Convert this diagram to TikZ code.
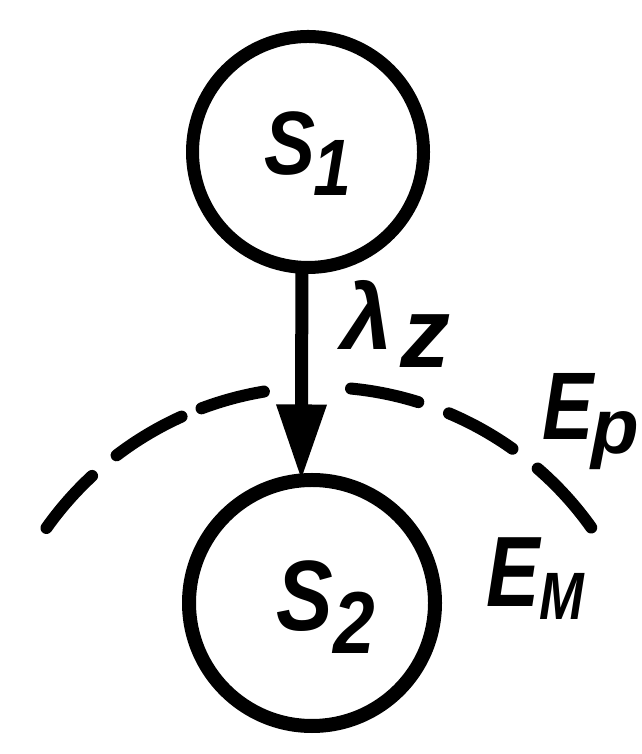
\documentclass[tikz,border=0pt]{standalone}
\usepackage{fontspec}
\setmainfont{Liberation Sans}
\usetikzlibrary{arrows.meta}
\begin{document}
\begin{tikzpicture}[x=1pt,y=1pt,
  state/.style={circle, draw, inner sep=0pt, outer sep=0pt},
  lbl/.style={inner sep=0pt, outer sep=0pt, anchor=base west, font=\bfseries\itshape},
  boundary/.style={line width=12pt, line cap=round},
  flow/.style={line width=13pt, -{Triangle[length=76pt,width=47pt]}}
]
\fill[white] (0,0) rectangle (641,754);
\useasboundingbox (0,0) rectangle (641,754);
% states
\node[state, line width=13pt, minimum size=231pt] (S1) at (308,602) {};
\node[state, line width=14pt, minimum size=246pt] (S2) at (312,151) {};
% transition
\draw[flow] (S1.267) -- (S2.95);
% boundary between E_p and E_M (dashed arc)
\coordinate (C) at (319,33);
\foreach \a/\b in {144.7/132.8, 127.3/114.3, 110.6/99.5, 84.5/72.7, 67.1/54.6, 49.1/35.4}{
  \draw[boundary] (C) ++(\a:334) arc[start angle=\a, end angle=\b, radius=334];
}
% labels
\node[lbl] (l1) at (264,579) {\fontsize{90}{90}\selectfont\scalebox{0.85}[1]{S}\hspace{-2pt}\raisebox{-21pt}{\fontsize{80}{80}\selectfont\scalebox{0.85}[1]{1}}};
\node[lbl] (l2) at (276,123) {\fontsize{100}{100}\selectfont\scalebox{0.85}[1]{S}\hspace{1pt}\raisebox{-23pt}{\fontsize{88}{88}\selectfont\scalebox{0.85}[1]{2}}};
\node[lbl] (lam) at (341,404) {\fontsize{92}{92}\selectfont λ\hspace{8pt}\raisebox{-18pt}{\fontsize{100}{100}\selectfont z}};
\node[lbl] (Ep) at (542,314) {\fontsize{96}{96}\selectfont\scalebox{0.8}[1]{E}\hspace{-2pt}\raisebox{-14pt}{\fontsize{78}{78}\selectfont p}};
\node[lbl] (EM) at (486,147) {\fontsize{100}{100}\selectfont\scalebox{0.8}[1]{E}\raisebox{-13pt}{\fontsize{67}{67}\selectfont\scalebox{0.8}[1]{M}}};
\end{tikzpicture}
\end{document}
